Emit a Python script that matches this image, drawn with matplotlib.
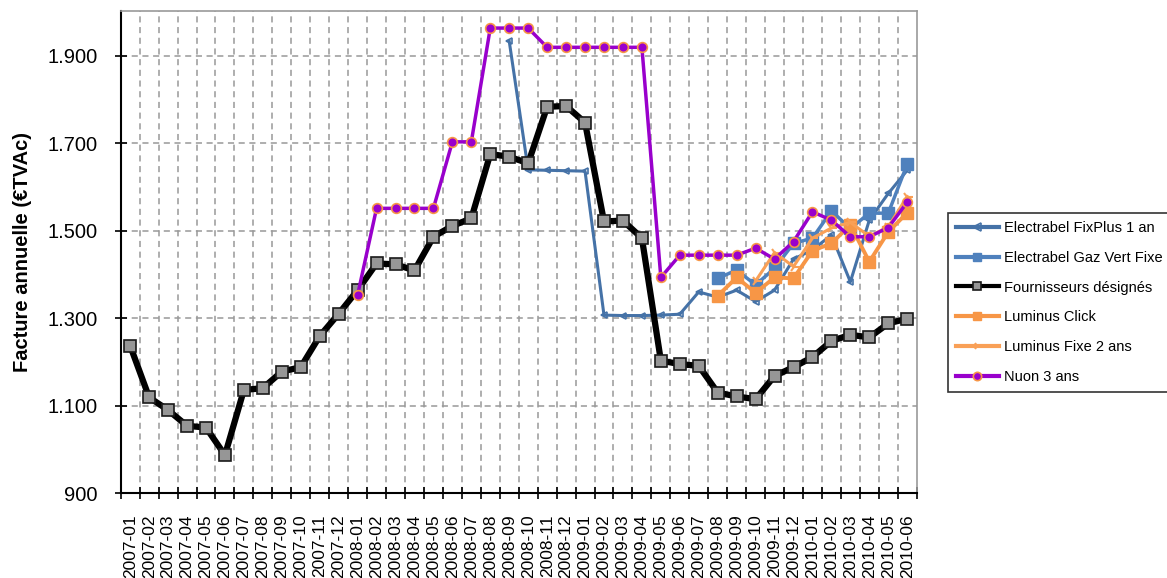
import numpy as np
import matplotlib
matplotlib.use("Agg")
import matplotlib.pyplot as plt
from matplotlib.ticker import FixedLocator, FuncFormatter

plt.rcParams['font.family'] = ['Liberation Sans', 'DejaVu Sans']

months = [f"{y}-{m:02d}" for y in (2007, 2008, 2009, 2010) for m in range(1, 13)][:42]
nan = np.nan

fournisseurs = [1237, 1119, 1090, 1054, 1050, 987, 1136, 1140, 1178, 1188, 1259, 1310,
                1364, 1425, 1423, 1409, 1486, 1511, 1528, 1675, 1669, 1654, 1783, 1785,
                1747, 1521, 1523, 1483, 1203, 1195, 1191, 1130, 1121, 1115, 1168, 1188,
                1211, 1248, 1262, 1256, 1288, 1299]
fixplus = [nan] * 20 + [1933, 1639, 1638, 1637, 1636, 1307, 1306, 1306, 1307, 1309, 1360,
                        1348, 1364, 1338, 1364, 1435, 1456, 1490, 1383, 1524, 1585, 1638]
gazvert = [nan] * 31 + [1391, 1410, 1376, 1414, 1471, 1483, 1545, 1505, 1540, 1540, 1652]
click = [nan] * 31 + [1351, 1393, 1358, 1393, 1391, 1454, 1471, 1513, 1429, 1497, 1541]
fixe2 = [nan] * 33 + [1385, 1450, 1418, 1483, 1506, 1519, 1487, 1509, 1578]
nuon = [nan] * 12 + [1353, 1551, 1551, 1551, 1551, 1703, 1703, 1963, 1963, 1963,
                     1919, 1919, 1919, 1919, 1919, 1919, 1393, 1444, 1444, 1444, 1444,
                     1460, 1435, 1475, 1543, 1524, 1486, 1486, 1507, 1565]

fig = plt.figure(figsize=(11.67, 5.78), dpi=100)
ax = fig.add_axes([120.7 / 1167, 1 - 493.2 / 578, (916.7 - 120.7) / 1167, (493.2 - 11) / 578])
x = np.arange(len(months))

ax.plot(x, fixplus, color='#4572A7', lw=2.2, marker='<', ms=5, mfc='none', mec='#4572A7',
        mew=1.2, label='Electrabel FixPlus 1 an', zorder=3)
ax.plot(x, gazvert, color='#4F81BD', lw=2.5, marker='s', ms=8, mfc='#4F81BD', mec='#4F81BD',
        label='Electrabel Gaz Vert Fixe', zorder=3)
ax.plot(x, fournisseurs, color='black', lw=4.5, marker='s', ms=9, mfc='#969696', mec='#1a1a1a',
        mew=1.2, label='Fournisseurs désignés', zorder=4)
ax.plot(x, click, color='#F79646', lw=2.8, marker='s', ms=8, mfc='#F79646', mec='#F79646',
        label='Luminus Click', zorder=5)
ax.plot(x, fixe2, color='#F9A057', lw=2.2, marker='4', ms=8, mec='#F9A057', mew=1.5,
        label='Luminus Fixe 2 ans', zorder=5)
ax.plot(x, nuon, color='#9900CC', lw=2.5, marker='o', ms=7, mfc='#9900CC', mec='#F79646',
        mew=1.2, label='Nuon 3 ans', zorder=6)

ax.set_xlim(-0.5, len(months) - 0.5)
ax.set_ylim(900, 2002)

yt = [900, 1100, 1300, 1500, 1700, 1900]
ax.yaxis.set_major_locator(FixedLocator(yt))
ax.yaxis.set_major_formatter(FuncFormatter(lambda v, p: f"{int(v):,}".replace(",", ".")))
ax.set_xticks(x)
ax.set_xticklabels(months, rotation=90, fontsize=12.5)
ax.xaxis.set_minor_locator(FixedLocator(np.arange(-0.5, len(months), 1)))
ax.tick_params(axis='x', which='major', length=0, pad=15)
ax.tick_params(axis='x', which='minor', direction='inout', length=8, width=1.2)
ax.tick_params(axis='y', which='major', direction='inout', length=9, width=1.2, labelsize=14.5, pad=12)

for v in yt[1:]:
    ax.axhline(v, color='#999999', lw=1.1, ls=(0, (4, 3)), zorder=1)
for b in np.arange(0.5, len(months) - 1, 1):
    ax.axvline(b, color='#999999', lw=1.1, ls=(0, (4, 3)), zorder=1)

for s in ('left', 'bottom'):
    ax.spines[s].set_color('black')
    ax.spines[s].set_linewidth(1.5)
for s in ('top', 'right'):
    ax.spines[s].set_color('#999999')
    ax.spines[s].set_linewidth(1.2)

ax.set_ylabel('Facture annuelle (€TVAc)', fontsize=14.5, fontweight='bold', labelpad=11)

leg = fig.legend(loc='upper left', bbox_to_anchor=(941 / 1167, 1 - 205.7 / 578), fontsize=10.5,
                 frameon=True, fancybox=False, edgecolor='black', handlelength=2.9,
                 labelspacing=1.08, borderpad=0.55, handletextpad=0.4)
leg.get_frame().set_linewidth(1.2)
for h in leg.get_lines():
    h.set_markersize(6)
    h.set_linewidth(3)

fig.savefig('out.png', dpi=100)
